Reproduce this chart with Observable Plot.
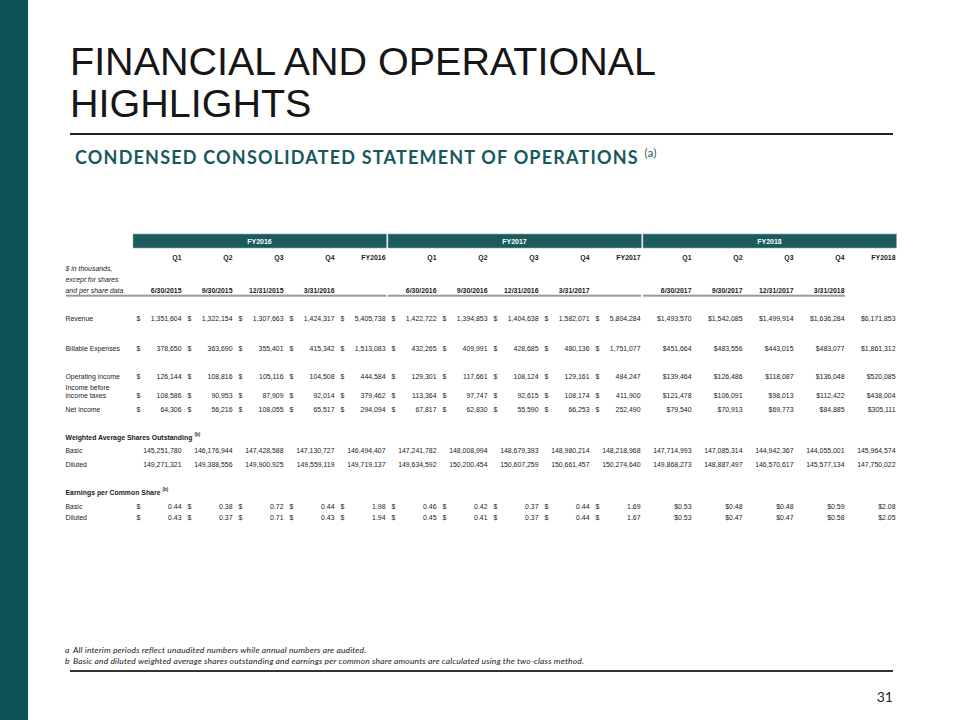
<!DOCTYPE html>
<html><head><meta charset="utf-8">
<script src="https://cdn.jsdelivr.net/npm/d3@7"></script>
<script src="https://cdn.jsdelivr.net/npm/@observablehq/plot@0.6"></script>
<style>
html,body{margin:0;padding:0;background:#fff;}
#page{position:relative;width:960px;height:720px;overflow:hidden;background:#fff;font-family:"Liberation Sans",Arial,sans-serif;}
#band{position:absolute;left:0;top:0;width:28px;height:720px;background:#0b5355;}
#title{position:absolute;left:70px;top:40px;font-size:39.5px;line-height:42px;color:#161616;white-space:nowrap;}
#rule1{position:absolute;left:70px;top:133px;width:823px;height:1.5px;background:#222;}
#subtitle{position:absolute;left:75px;top:147px;font-family:Lato,"Open Sans",sans-serif;font-weight:bold;font-size:18px;line-height:20px;letter-spacing:1.2px;color:#17595b;white-space:nowrap;}
#subtitle sup{font-size:11px;font-weight:normal;letter-spacing:0.5px;vertical-align:7px;line-height:0;}
#chart{position:absolute;left:0;top:220px;}
#notes{position:absolute;left:65px;top:645px;font-family:Lato,"Open Sans",sans-serif;font-style:italic;font-size:8.5px;letter-spacing:0.15px;line-height:11px;color:#222;white-space:nowrap;}
#notes span{display:inline-block;width:8px;}
#rule2{position:absolute;left:70px;top:670px;width:823px;height:1.5px;background:#333;}
#pnum{position:absolute;right:67px;top:688px;font-family:Lato,"Open Sans",sans-serif;font-size:14px;color:#222;}
</style>
</head><body>
<div id="page">
  <div id="band"></div>
  <div id="title">FINANCIAL AND OPERATIONAL<br>HIGHLIGHTS</div>
  <div id="rule1"></div>
  <div id="subtitle">CONDENSED CONSOLIDATED STATEMENT OF OPERATIONS <sup>(a)</sup></div>
  <div id="chart"></div>
  <div id="notes">
    <div><span>a</span>All interim periods reflect unaudited numbers while annual numbers are audited.</div>
    <div><span>b</span>Basic and diluted weighted average shares outstanding and earnings per common share amounts are calculated using the two-class method.</div>
  </div>
  <div id="rule2"></div>
  <div id="pnum">31</div>
</div>
<script>
// ---- data ----
const fiscalYears = ["FY2016", "FY2017", "FY2018"];
const periods = ["Q1", "Q2", "Q3", "Q4", "FY"];
const periodEnds = [
  ["6/30/2015", "9/30/2015", "12/31/2015", "3/31/2016"],
  ["6/30/2016", "9/30/2016", "12/31/2016", "3/31/2017"],
  ["6/30/2017", "9/30/2017", "12/31/2017", "3/31/2018"]
];
const revenue = [1351604, 1322154, 1307663, 1424317, 5405738, 1422722, 1394853, 1404638, 1582071, 5804284, 1493570, 1542085, 1499914, 1636284, 6171853];
const billableExpenses = [378650, 363690, 355401, 415342, 1513083, 432265, 409991, 428685, 480136, 1751077, 451664, 483556, 443015, 483077, 1861312];
const operatingIncome = [126144, 108816, 105116, 104508, 444584, 129301, 117661, 108124, 129161, 484247, 139464, 126486, 118087, 136048, 520085];
const incomeBeforeTaxes = [108586, 90953, 87909, 92014, 379462, 113364, 97747, 92615, 108174, 411900, 121478, 106091, 98013, 112422, 438004];
const netIncome = [64306, 56216, 108055, 65517, 294094, 67817, 62830, 55590, 66253, 252490, 79540, 70913, 69773, 84885, 305111];
const sharesBasic = [145251780, 146176944, 147428588, 147130727, 146494407, 147241782, 148008994, 148679393, 148980214, 148218968, 147714993, 147085314, 144942367, 144055001, 145964574];
const sharesDiluted = [149271321, 149388556, 149900925, 149559119, 149719137, 149634592, 150200454, 150607259, 150661457, 150274640, 149868273, 148887497, 146570617, 145577134, 147750022];
const epsBasic = [0.44, 0.38, 0.72, 0.44, 1.98, 0.46, 0.42, 0.37, 0.44, 1.69, 0.53, 0.48, 0.48, 0.59, 2.08];
const epsDiluted = [0.43, 0.37, 0.71, 0.43, 1.94, 0.45, 0.41, 0.37, 0.44, 1.67, 0.53, 0.47, 0.47, 0.58, 2.05];
const unitLabel = ["$ in thousands,", "except for shares", "and per share data"];

// ---- layout (row order with vertical gaps in slot units) ----
const rowLayout = [["hdr",0],["q",6],["l1",4],["l2",4],["date",4],["revenue",10],["billable",11],["opinc",10],
  ["pretaxLabel",4],["pretax",3],["net",5],["wasoHead",10],["sharesBasic",5],["sharesDiluted",5],
  ["epsHead",10],["epsBasic",5],["epsDiluted",4]];
const yDomain = [];
rowLayout.forEach(([k, gap]) => { for (let i = 1; i < gap; i++) yDomain.push("_" + k + i); yDomain.push(k); });

const cols = fiscalYears.flatMap(fy => periods.map(p => fy + " " + p));
const colHeads = fiscalYears.flatMap(fy => periods.map(p => ({col: fy + " " + p, text: p === "FY" ? fy : p})));
const dateCells = fiscalYears.flatMap((fy, j) => periodEnds[j].map((d, i) => ({col: fy + " " + periods[i], text: d})));
const fyBars = fiscalYears.map(fy => ({fy, first: fy + " Q1", last: fy + " FY", mid: fy + " Q3", q4: fy + " Q4"}));

const metricRows = [
  {key: "revenue", label: "Revenue", values: revenue, kind: "money"},
  {key: "billable", label: "Billable Expenses", values: billableExpenses, kind: "money"},
  {key: "opinc", label: "Operating income", values: operatingIncome, kind: "money"},
  {key: "pretax", label: "income taxes", values: incomeBeforeTaxes, kind: "money"},
  {key: "net", label: "Net income", values: netIncome, kind: "money"},
  {key: "sharesBasic", label: "Basic", values: sharesBasic, kind: "shares"},
  {key: "sharesDiluted", label: "Diluted", values: sharesDiluted, kind: "shares"},
  {key: "epsBasic", label: "Basic", values: epsBasic, kind: "eps"},
  {key: "epsDiluted", label: "Diluted", values: epsDiluted, kind: "eps"}
];
const fInt = d3.format(","), fEps = d3.format(".2f");
const cells = metricRows.flatMap(r => r.values.map((v, i) => {
  const fy = cols[i].split(" ")[0];
  const late = fy === "FY2018";
  let text, dollar = false;
  if (r.kind === "shares") text = fInt(v);
  else {
    const s = r.kind === "eps" ? fEps(v) : fInt(v);
    if (late) text = "$" + s; else { text = s; dollar = true; }
  }
  return {row: r.key, col: cols[i], text, dollar};
}));
const labels = metricRows.map(r => ({row: r.key, text: r.label})).concat([{row: "pretaxLabel", text: "Income before"}]);
const italicLabels = ["l1", "l2", "date"].map((k, i) => ({row: k, text: unitLabel[i]}));

const fs = 6.9;
// measure bold head widths for superscripts
const ctx = document.createElement("canvas").getContext("2d");
ctx.font = `bold ${fs}px 'Liberation Sans'`;
const w1 = ctx.measureText("Weighted Average Shares Outstanding").width;
const w2 = ctx.measureText("Earnings per Common Share").width;

const ink = "#1a1a1a";
const chart = Plot.plot({
  width: 960, height: 310,
  marginLeft: 65, marginRight: 65, marginTop: 0, marginBottom: 0,
  x: {type: "point", domain: cols, range: [180, 895], padding: 0, axis: null},
  y: {type: "point", domain: yDomain, range: [21, 297], padding: 0, axis: null},
  style: {fontFamily: "'Liberation Sans', Arial, sans-serif", fontSize: fs + "px", color: ink, background: "transparent", overflow: "visible"},
  marks: [
    Plot.rect(fyBars, {x1: "first", x2: "last", y1: () => "hdr", y2: () => "hdr", insetLeft: -48, insetRight: -1.5, insetTop: -7, insetBottom: -7, fill: "#1b5b5c", stroke: "#8aabab", strokeWidth: 0.6}),
    Plot.text(fyBars, {x: "mid", y: () => "hdr", text: "fy", dx: -24, fill: "white", fontWeight: "bold", fontSize: 7}),
    Plot.text(colHeads, {x: "col", y: () => "q", text: "text", textAnchor: "end", fontWeight: "bold", fill: ink}),
    Plot.text(dateCells, {x: "col", y: () => "date", text: "text", textAnchor: "end", fontWeight: "bold", fill: ink}),
    Plot.rect(fyBars.slice(0, 1), {x1: "first", x2: "last", y1: () => "date", y2: () => "date", insetLeft: -115, insetRight: -1.5, insetTop: 4, insetBottom: -6, fill: "#9a9a9a"}),
    Plot.rect(fyBars.slice(1), {x1: "first", x2: d => d.fy === "FY2018" ? d.q4 : d.last, y1: () => "date", y2: () => "date", insetLeft: -48, insetRight: -1, insetTop: 4, insetBottom: -6, fill: "#9a9a9a"}),
    Plot.text(italicLabels, {y: "row", text: "text", frameAnchor: "left", textAnchor: "start", fontStyle: "italic", fill: ink}),
    Plot.text(labels, {y: "row", text: "text", frameAnchor: "left", textAnchor: "start", fill: ink}),
    Plot.text(["Weighted Average Shares Outstanding"], {y: () => "wasoHead", text: d => d, frameAnchor: "left", textAnchor: "start", fontWeight: "bold", fill: ink}),
    Plot.text(["(b)"], {y: () => "wasoHead", text: d => d, frameAnchor: "left", textAnchor: "start", dx: w1 + 2, dy: -3, fontSize: 4.5, fontWeight: "bold", fill: ink}),
    Plot.text(["Earnings per Common Share"], {y: () => "epsHead", text: d => d, frameAnchor: "left", textAnchor: "start", fontWeight: "bold", fill: ink}),
    Plot.text(["(b)"], {y: () => "epsHead", text: d => d, frameAnchor: "left", textAnchor: "start", dx: w2 + 2, dy: -3, fontSize: 4.5, fontWeight: "bold", fill: ink}),
    Plot.text(cells, {x: "col", y: "row", text: "text", textAnchor: "end", fill: ink}),
    Plot.text(cells.filter(d => d.dollar), {x: "col", y: "row", text: () => "$", textAnchor: "start", dx: -45, fill: ink})
  ]
});
document.getElementById("chart").appendChild(chart);
</script>
</body></html>
